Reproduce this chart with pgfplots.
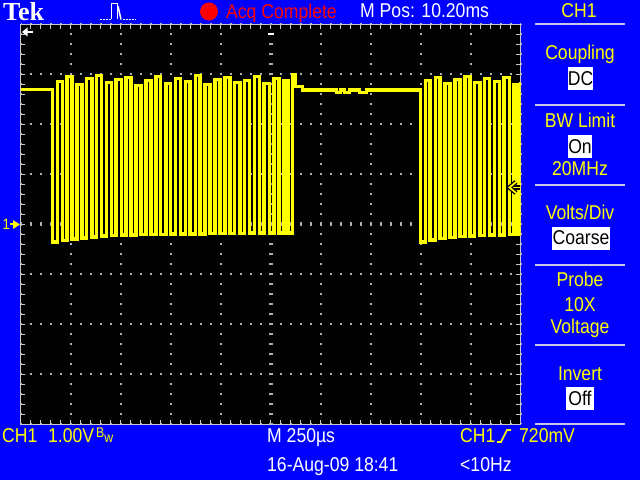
\documentclass[border=0pt]{standalone}
\usepackage{fontspec}
\usepackage{pgfplots}
\pgfplotsset{compat=1.18}
\newfontfamily\scopefont{Liberation Sans}[FakeStretch=0.88]
\newfontfamily\tekfont{Liberation Serif}
\definecolor{scopeblue}{RGB}{0,0,255}
\definecolor{trace}{RGB}{255,255,0}
\definecolor{txtyellow}{RGB}{255,255,0}
\definecolor{bordergray}{RGB}{200,200,200}
\definecolor{gridgray}{RGB}{175,175,175}
\definecolor{sepgray}{RGB}{200,200,230}
\definecolor{acqred}{RGB}{255,0,0}
\begin{document}
\begin{tikzpicture}[x=1bp,y=1bp]
\useasboundingbox (0,0) rectangle (640,480);
\fill[scopeblue] (0,0) rectangle (640,480);
\begin{axis}[
  at={(20.5bp,55.5bp)}, anchor=south west,
  scale only axis, width=500bp, height=400bp,
  xmin=0, xmax=2500, ymin=-4, ymax=4,
  axis background/.style={fill=black},
  axis line style={draw=bordergray, line width=1.5bp},
  xtick={0,250,...,2500}, ytick={-4,-3,...,4},
  xticklabels={}, yticklabels={},
  minor x tick num=4, minor y tick num=4,
  tick style={draw=bordergray, line width=1.2bp},
  major tick length=4.5bp, minor tick length=4.5bp,
  tick align=inside,
  grid=major,
  major grid style={draw=gridgray, line width=2bp, dash pattern=on 2bp off 8bp, dash phase=1bp},
  clip=true,
]
\draw[gridgray, line width=4bp, dash pattern=on 2bp off 8bp, dash phase=1bp] (axis cs:0,0) -- (axis cs:2500,0);
\draw[gridgray, line width=4bp, dash pattern=on 2bp off 8bp, dash phase=1bp] (axis cs:1250,-4) -- (axis cs:1250,4);
\addplot[const plot, draw=trace, line width=3.6bp, mark=none] coordinates {
(0,2.70) (160,-0.35) (184,2.86) (210,-0.32) (232,2.96) (258,-0.29) (282,2.80)
(306,-0.27) (330,2.92) (356,-0.25) (380,2.98) (404,-0.23) (430,2.84) (454,-0.22)
(478,2.90) (504,-0.21) (528,2.94) (552,-0.21) (578,2.78) (602,-0.20) (626,2.88)
(652,-0.20) (676,2.96) (700,-0.20) (726,2.82) (750,-0.19) (774,2.92) (800,-0.19)
(824,2.86) (848,-0.19) (874,2.98) (898,-0.19) (922,2.80) (948,-0.18) (972,2.90)
(996,-0.18) (1022,2.94) (1046,-0.18) (1070,2.84) (1096,-0.18) (1120,2.88)
(1144,-0.17) (1170,2.96) (1194,-0.17) (1218,2.82) (1244,-0.17) (1268,2.92)
(1292,-0.17) (1316,2.88) (1336,-0.17) (1360,3.00) (1374,2.76) (1410,2.69)
(1580,2.64) (1600,2.69) (1620,2.64) (1645,2.69) (1695,2.64) (1730,2.69)
(2000,-0.35) (2024,2.88) (2048,-0.31) (2074,2.94) (2098,-0.28) (2122,2.82)
(2148,-0.26) (2172,2.90) (2196,-0.24) (2222,2.96) (2246,-0.23) (2270,2.84)
(2296,-0.22) (2320,2.92) (2344,-0.21) (2370,2.86) (2394,-0.21) (2418,2.94)
(2444,-0.20) (2468,2.80) (2488,-0.20) (2500,2.85)
};
\end{axis}
\begin{scope}[yshift=480bp, yscale=-1, every node/.style={inner sep=0pt, font=\scopefont\fontsize{20bp}{24bp}\selectfont}]
% top bar
\node[anchor=base west, text=white, font=\tekfont\bfseries\fontsize{26bp}{28bp}\selectfont] at (3,21) {Tek};
\draw[white, line width=1.5bp, dash pattern=on 1.5bp off 1.5bp] (100,19.5)--(111,19.5);
\draw[white, line width=1.5bp] (111.5,19.5)--(111.5,3.5)--(117.5,3.5)--(117.5,19.5);
\draw[white, line width=1.5bp] (118,6)--(121,19.5);
\draw[white, line width=1.5bp, dash pattern=on 1.5bp off 1.5bp] (123,19.5)--(136,19.5);
\fill[acqred] (209,11.5) circle (9);
\node[anchor=base west, text=acqred] at (226,19) {Acq Complete};
\node[anchor=base west, text=white] at (360,18) {M Pos: 10.20ms};
\node[anchor=base, text=txtyellow] at (579,18) {CH1};
% graticule markers
\fill[white] (22,32)--(27.5,27.5)--(27.5,36.5)--cycle;
\draw[white, line width=2bp] (26,32)--(33,32);
\fill[white] (268,33) rectangle (274,35.5);
\node[anchor=base west, text=txtyellow, font=\scopefont\fontsize{15bp}{16bp}\selectfont] at (2.5,229.5) {1};
\draw[txtyellow, line width=2bp] (10,224.5)--(15,224.5);
\fill[txtyellow] (13,220)--(20,224.5)--(13,229)--cycle;
\draw[black, line width=4.5bp] (516,182)--(509.5,187.5)--(516,193);
\draw[black, line width=4.5bp] (513,187.5)--(519.5,187.5);
\draw[txtyellow, line width=1.8bp] (516,182)--(509.5,187.5)--(516,193);
\draw[txtyellow, line width=1.8bp] (513,187.5)--(519.5,187.5);
% right panel
\foreach \yy in {24.5,105,185,265,345,424.5} \draw[sepgray, line width=2bp] (535,\yy)--(625,\yy);
\node[anchor=base, text=txtyellow] at (580,60) {Coupling};
\fill[white] (568,67) rectangle (593,90);
\node[anchor=base, text=black] at (580.5,86) {DC};
\node[anchor=base, text=txtyellow] at (580,128) {BW Limit};
\fill[white] (568,135) rectangle (592,158);
\node[anchor=base, text=black] at (580,154) {On};
\node[anchor=base, text=txtyellow] at (580,176) {20MHz};
\node[anchor=base, text=txtyellow] at (580,220) {Volts/Div};
\fill[white] (552,227) rectangle (610,250);
\node[anchor=base, text=black] at (581,245) {Coarse};
\node[anchor=base, text=txtyellow] at (580,287) {Probe};
\node[anchor=base, text=txtyellow] at (580,312) {10X};
\node[anchor=base, text=txtyellow] at (580,334) {Voltage};
\node[anchor=base, text=txtyellow] at (580,381) {Invert};
\fill[white] (566,387) rectangle (594,410);
\node[anchor=base, text=black] at (580,406) {Off};
% bottom
\node[anchor=base west, text=txtyellow] at (2,443) {CH1};
\node[anchor=base west, text=txtyellow] at (48,443) {1.00V};
\node[anchor=base west, text=txtyellow, font=\scopefont\fontsize{14bp}{14bp}\selectfont] at (96,438) {B\raisebox{-5bp}{w}};
\node[anchor=base west, text=white] at (267,443) {M 250µs};
\node[anchor=base west, text=white] at (267,472) {16-Aug-09 18:41};
\node[anchor=base west, text=txtyellow] at (460,443) {CH1};
\draw[txtyellow, line width=1.6bp] (497,442)--(501,442)--(507,430)--(511,430);
\node[anchor=base west, text=txtyellow] at (519,443) {720mV};
\node[anchor=base west, text=white] at (460,472) {<10Hz};
\end{scope}
\end{tikzpicture}
\end{document}
